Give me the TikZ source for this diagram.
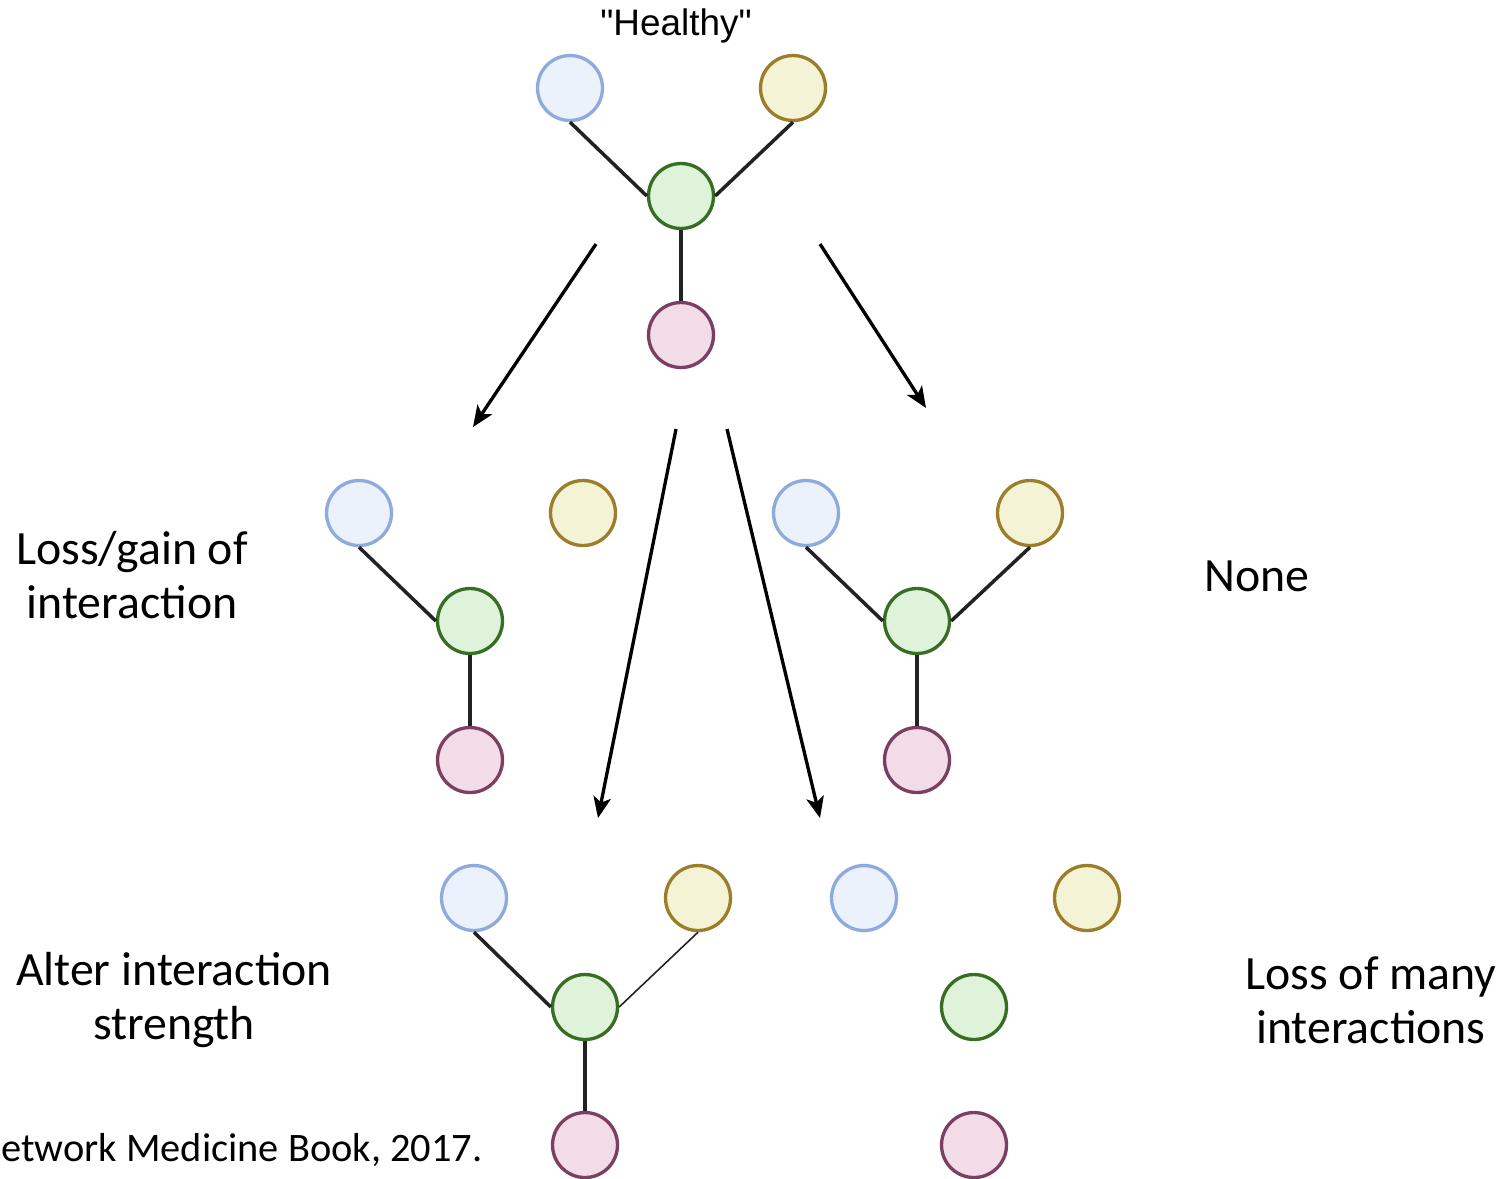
\documentclass[tikz,border=0pt]{standalone}
\usepackage{fontspec}
\setmainfont{Carlito}
\newfontfamily\headfont{Liberation Sans}
\usetikzlibrary{arrows.meta}
\definecolor{bluefill}{HTML}{EBF2FB}
\definecolor{bluedraw}{HTML}{8FAADC}
\definecolor{yellowfill}{HTML}{F5F3D6}
\definecolor{yellowdraw}{HTML}{9C7E2A}
\definecolor{greenfill}{HTML}{DFF2DA}
\definecolor{greendraw}{HTML}{376E23}
\definecolor{pinkfill}{HTML}{F1DCE7}
\definecolor{pinkdraw}{HTML}{7C3F62}
\definecolor{linkcol}{HTML}{222222}
\tikzset{
  protein/.style={circle, minimum size=1.3cm, inner sep=0pt, line width=1.9pt},
  pblue/.style={protein, draw=bluedraw, fill=bluefill},
  pyellow/.style={protein, draw=yellowdraw, fill=yellowfill},
  pgreen/.style={protein, draw=greendraw, fill=greenfill},
  ppink/.style={protein, draw=pinkdraw, fill=pinkfill},
  link/.style={draw=linkcol, line width=2pt},
  weaklink/.style={draw=linkcol, line width=0.9pt},
  flow/.style={draw=black, line width=1.9pt, -{Stealth[length=12pt, width=10pt, inset=3pt]}},
  caption/.style={font=\fontsize{27.2}{31}\selectfont, align=center, text=black},
}
\begin{document}
\begin{tikzpicture}[x=0.02cm, y=-0.02cm]
\useasboundingbox (0,0) rectangle (1506,1178);

% healthy network
\node[font=\headfont\fontsize{21}{24}\selectfont] (healthy) at (676,26) {"Healthy"};
\node[pblue]   (hb) at (570,88) {};
\node[pyellow] (hy) at (793,88) {};
\node[pgreen]  (hg) at (681,196) {};
\node[ppink]   (hp) at (681,335) {};
\draw[link] (hb.south) -- (hg.west);
\draw[link] (hy.south) -- (hg.east);
\draw[link] (hg.south) -- (hp.north);

% loss/gain of interaction
\node[pblue]   (lb) at (359,513) {};
\node[pyellow] (ly) at (583,513) {};
\node[pgreen]  (lg) at (470,621) {};
\node[ppink]   (lp) at (470,760) {};
\draw[link] (lb.south) -- (lg.west);
\draw[link] (lg.south) -- (lp.north);
\node[caption] (ltext) at (132,575) {Loss/gain of\\interaction};

% none
\node[pblue]   (nb) at (806,513) {};
\node[pyellow] (ny) at (1030,513) {};
\node[pgreen]  (ng) at (917,621) {};
\node[ppink]   (np) at (917,760) {};
\draw[link] (nb.south) -- (ng.west);
\draw[link] (ny.south) -- (ng.east);
\draw[link] (ng.south) -- (np.north);
\node[caption] (ntext) at (1257,576) {None};

% altered interaction strength
\node[pblue]   (ab) at (474,898) {};
\node[pyellow] (ay) at (698,898) {};
\node[pgreen]  (ag) at (585,1007) {};
\node[ppink]   (ap) at (585,1145) {};
\draw[link] (ab.south) -- (ag.west);
\draw[weaklink] (ay.south) -- (ag.east);
\draw[link] (ag.south) -- (ap.north);
\node[caption] (atext) at (174,1000) {Alter interaction\\strength};

% loss of many interactions
\node[pblue]   (mb) at (864,898) {};
\node[pyellow] (my) at (1087,898) {};
\node[pgreen]  (mg) at (974,1007) {};
\node[ppink]   (mp) at (974,1145) {};
\node[caption] (mtext) at (1371,1000) {Loss of many\\interactions};

% source note
\node[font=\fontsize{23}{27}\selectfont, anchor=west, inner sep=0pt] (src) at (1,1150) {etwork Medicine Book, 2017.};

% transitions
\coordinate (f1s) at (596,244); \coordinate (f1e) at (473,427);
\coordinate (f2s) at (820,244); \coordinate (f2e) at (926,408);
\coordinate (f3s) at (676,429); \coordinate (f3e) at (598,818);
\coordinate (f4s) at (727,429); \coordinate (f4e) at (820,818);
\draw[flow] (f1s) -- (f1e);
\draw[flow] (f2s) -- (f2e);
\draw[flow] (f3s) -- (f3e);
\draw[flow] (f4s) -- (f4e);
\end{tikzpicture}
\end{document}
